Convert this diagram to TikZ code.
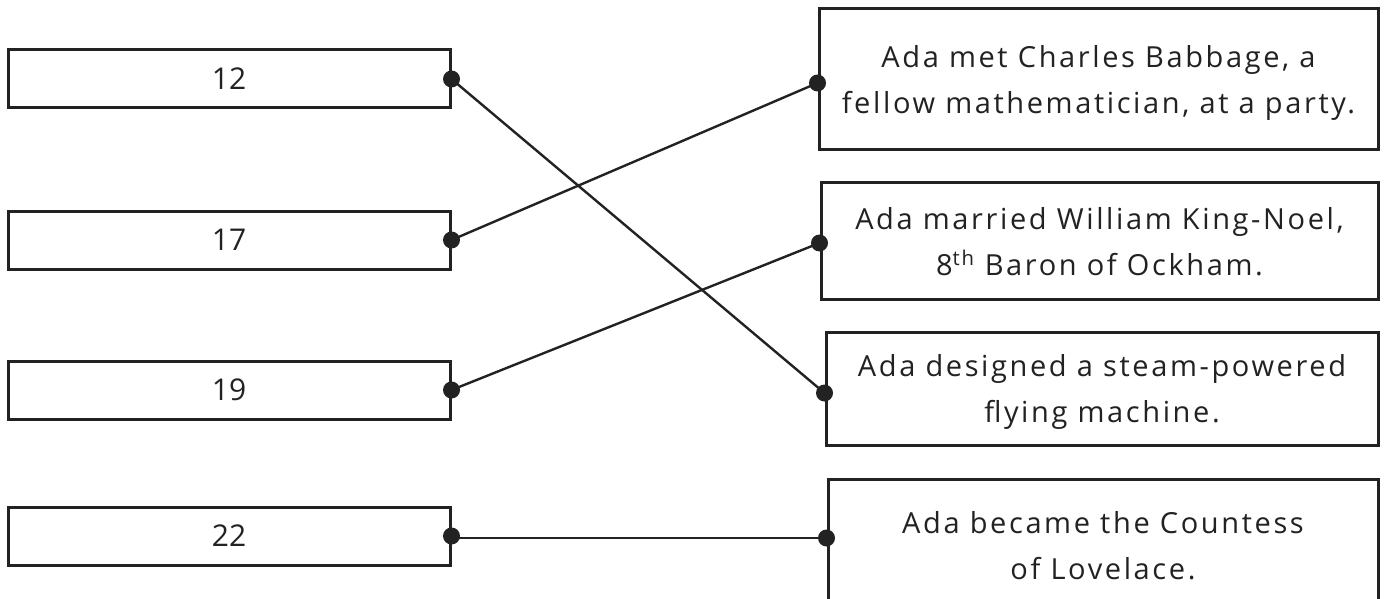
\documentclass[tikz,border=0pt]{standalone}
\usepackage{fontspec}
\setmainfont{Open Sans}
\newfontfamily\rtfont[LetterSpace=9]{Open Sans}
\definecolor{ink}{HTML}{222222}
\begin{document}
\begin{tikzpicture}[x=1pt,y=-1pt,
  lbox/.style={draw=ink, line width=3pt, fill=white, rectangle, inner sep=0pt,
    minimum width=442pt, minimum height=58pt, text=ink,
    font=\fontsize{30}{36}\selectfont},
  rbox/.style={draw=ink, line width=3pt, fill=white, rectangle, inner sep=0pt,
    align=center, text=ink, text depth=0pt, font=\rtfont\fontsize{29}{46}\selectfont},
  conn/.style={draw=ink, line width=2.4pt},
  dotnode/.style={circle, fill=ink, inner sep=0pt, minimum size=17pt}]
\useasboundingbox (0,0) rectangle (1385,599);
\begin{scope}
\clip (0,0) rectangle (1385,599);
% left boxes
\node[lbox] (n12) at (229,79) {12};
\node[lbox] (n17) at (229,240) {17};
\node[lbox] (n19) at (229,390) {19};
\node[lbox] (n22) at (229,536) {22};
% right boxes
\node[rbox, minimum width=559pt, minimum height=141pt] (b1) at (1098.5,79.5)
  {Ada met Charles Babbage, a\\fellow mathematician, at a party.};
\node[rbox, minimum width=557pt, minimum height=116pt] (b2) at (1099.5,241)
  {Ada married William King-Noel,\\8\textsuperscript{th} Baron of Ockham.};
\node[rbox, minimum width=552pt, minimum height=113pt] (b3) at (1102,388.5)
  {Ada designed a steam-powered\\flying machine.};
\node[rbox, minimum width=550pt, minimum height=133pt] (b4) at (1103,545.5)
  {Ada became the Countess\\of Lovelace.};
% dot positions
\coordinate (l1) at (n12.east);
\coordinate (l2) at (n17.east);
\coordinate (l3) at (n19.east);
\coordinate (l4) at (n22.east);
\coordinate (r1) at ([yshift=-3.5pt]b1.west);
\coordinate (r2) at ([yshift=-2pt]b2.west);
\coordinate (r3) at ([yshift=-4.5pt]b3.west);
\coordinate (r4) at ([yshift=7.5pt]b4.west);
% connectors
\draw[conn] (l1) -- (r3);
\draw[conn] (l2) -- (r1);
\draw[conn] (l3) -- (r2);
\draw[conn] (l4) -- (r4 -| l4) -- (r4);
% dots
\node[dotnode] (dl1) at (l1) {};
\node[dotnode] (dl2) at (l2) {};
\node[dotnode] (dl3) at (l3) {};
\node[dotnode] (dl4) at (l4) {};
\node[dotnode] (dr1) at (r1) {};
\node[dotnode] (dr2) at (r2) {};
\node[dotnode] (dr3) at (r3) {};
\node[dotnode] (dr4) at (r4) {};
\end{scope}
\end{tikzpicture}
\end{document}
